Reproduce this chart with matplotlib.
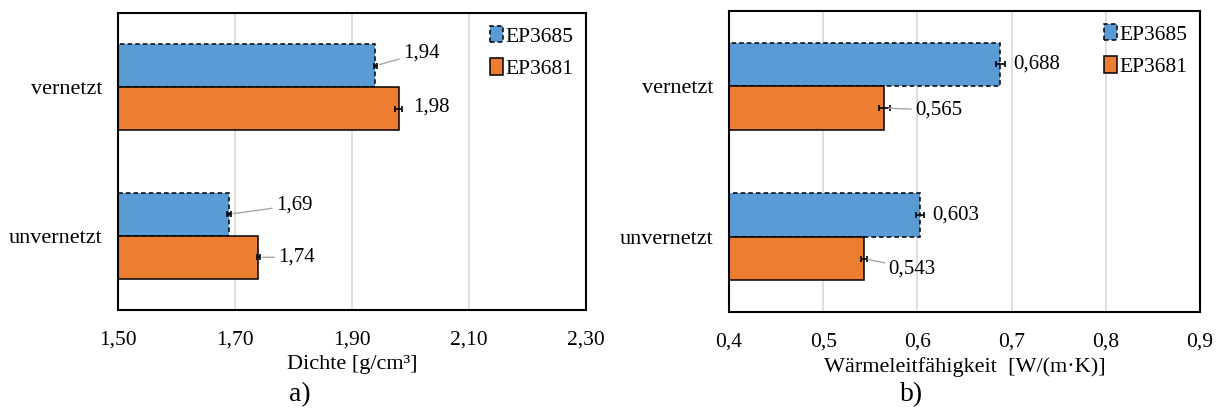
import numpy as np
import matplotlib.pyplot as plt

plt.rcParams['font.family'] = ['Liberation Serif', 'DejaVu Serif']
plt.rcParams['font.size'] = 15

categories = ['unvernetzt', 'vernetzt']
series = ['EP3685', 'EP3681']

# density [g/cm3], order: unvernetzt, vernetzt
dichte = {'EP3685': [1.69, 1.94], 'EP3681': [1.74, 1.98]}
dichte_err = {'EP3685': [0.003, 0.003], 'EP3681': [0.003, 0.006]}
dichte_labels = {'EP3685': ['1,69', '1,94'], 'EP3681': ['1,74', '1,98']}

# thermal conductivity [W/(m K)]
waerme = {'EP3685': [0.603, 0.688], 'EP3681': [0.543, 0.565]}
waerme_err = {'EP3685': [0.004, 0.005], 'EP3681': [0.003, 0.006]}
waerme_labels = {'EP3685': ['0,603', '0,688'], 'EP3681': ['0,543', '0,565']}

colors = {'EP3685': '#5b9bd5', 'EP3681': '#ed7d31'}
edge_styles = {'EP3685': (0, (3, 2)), 'EP3681': 'solid'}

# label offsets in pixels (dx, dy) from the bar end
dichte_offsets = {'EP3685': [(47, 9), (28, 13)], 'EP3681': [(20, 0), (14, 2)]}
waerme_offsets = {'EP3685': [(12, 0), (13, 0)], 'EP3681': [(25, -10), (31, -2)]}

fig = plt.figure(figsize=(12.24, 4.12), dpi=100)
ax1 = fig.add_axes([118 / 1224, 102 / 412, 468 / 1224, 297 / 412])
ax2 = fig.add_axes([729 / 1224, 100 / 412, 471 / 1224, 301 / 412])

bar_h = 0.29
y = np.arange(len(categories))


def draw_panel(ax, values, errors, labels, offsets, xlim, ticks, ticklabels, xlabel):
    for i, s in enumerate(series):
        ypos = y + bar_h / 2 if i == 0 else y - bar_h / 2
        ax.barh(ypos, values[s], height=bar_h, color=colors[s],
                edgecolor='black', linewidth=1.1, linestyle=edge_styles[s],
                label=s, zorder=2)
        ax.errorbar(values[s], ypos, xerr=errors[s], fmt='none', ecolor='black',
                    elinewidth=1.2, capsize=2.5, capthick=1.2, zorder=3)
        for v, yp, txt, (dx, dy) in zip(values[s], ypos, labels[s], offsets[s]):
            props = None
            if dx > 14:
                props = dict(arrowstyle='-', color='#a6a6a6', lw=1.0,
                             shrinkA=1, shrinkB=3)
            ax.annotate(txt, xy=(v, yp), xytext=(dx, dy), textcoords='offset pixels',
                        ha='left', va='center', fontsize=15, arrowprops=props, zorder=4)
    ax.set_xlim(*xlim)
    ax.set_ylim(-0.5, 1.5)
    ax.set_xticks(ticks)
    ax.set_xticklabels(ticklabels, fontsize=15.5)
    ax.set_yticks(y)
    ax.set_yticklabels(categories, fontsize=16)
    ax.tick_params(axis='x', length=0, pad=15)
    ax.tick_params(axis='y', length=0, pad=11)
    ax.grid(axis='x', color='#d9d9d9', linewidth=1.2, zorder=0)
    ax.set_axisbelow(True)
    for sp in ax.spines.values():
        sp.set_linewidth(1.5)
    ax.set_xlabel(xlabel, labelpad=4, fontsize=16)
    ax.legend(loc='upper right', frameon=False, handlelength=0.6,
              handleheight=0.8, handletextpad=0.1, labelspacing=0.55,
              borderaxespad=0.2, fontsize=15.5)


draw_panel(ax1, dichte, dichte_err, dichte_labels, dichte_offsets,
           (1.5, 2.3), [1.5, 1.7, 1.9, 2.1, 2.3],
           ['1,50', '1,70', '1,90', '2,10', '2,30'], 'Dichte [g/cm³]')
draw_panel(ax2, waerme, waerme_err, waerme_labels, waerme_offsets,
           (0.4, 0.9), [0.4, 0.5, 0.6, 0.7, 0.8, 0.9],
           ['0,4', '0,5', '0,6', '0,7', '0,8', '0,9'],
           'Wärmeleitfähigkeit  [W/(m·K)]')

fig.text(300 / 1224, 1 - 395 / 412, 'a)', ha='center', va='center', fontsize=20)
fig.text(912 / 1224, 1 - 395 / 412, 'b)', ha='center', va='center', fontsize=20)

fig.savefig('out.png', dpi=100)
